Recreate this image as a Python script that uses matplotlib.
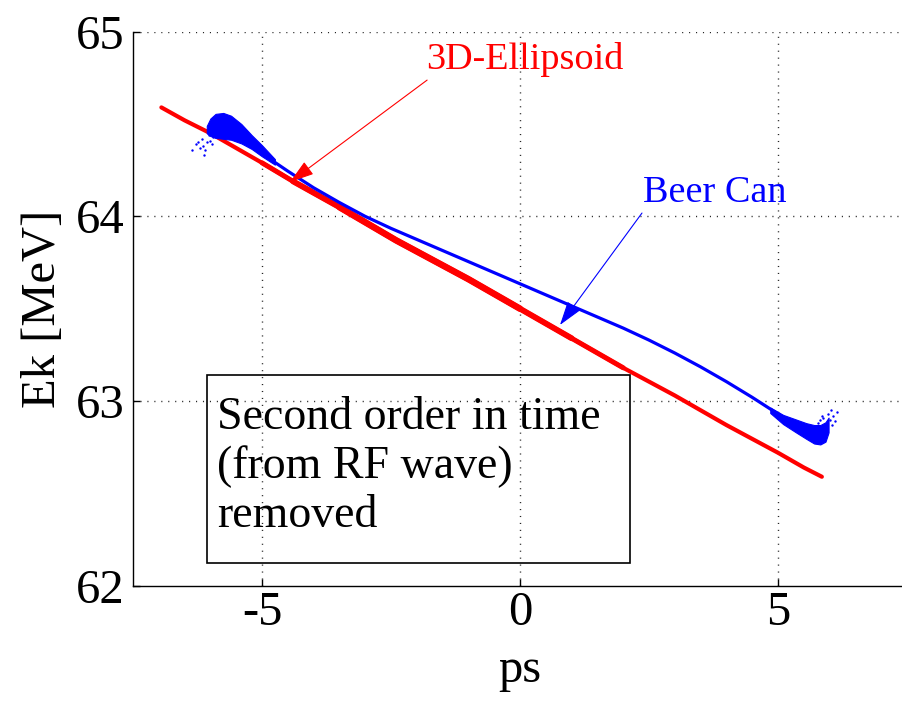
import matplotlib
matplotlib.use("Agg")
import matplotlib.pyplot as plt
import numpy as np
from matplotlib.patches import Rectangle

plt.rcParams['font.family'] = ['Liberation Serif', 'DejaVu Serif']
plt.rcParams['lines.scale_dashes'] = False

# ---- data ----
# 3D-Ellipsoid (red)
ell_x = [-6.95, -6.5, -6.0, -5.0, -4.4, -3.5, -2.4, -1.0, 0.0, 1.0, 2.0, 3.0, 4.0, 5.0, 5.5, 5.85]
ell_y = [64.59, 64.52, 64.45, 64.29, 64.19, 64.05, 63.87, 63.66, 63.50, 63.34, 63.18, 63.03, 62.87, 62.72, 62.64, 62.59]

# Beer Can (blue) core line
bc_x = [-5.62, -5.3, -5.0, -4.5, -4.0, -3.5, -3.0, -2.5, -2.0, -1.5, -1.0, -0.5, 0.0,
        0.5, 1.0, 1.5, 2.0, 2.5, 3.0, 3.5, 4.0, 4.5, 5.0, 5.3]
bc_y = [64.45, 64.395, 64.34, 64.245, 64.155, 64.075, 64.00, 63.935, 63.875, 63.815, 63.755, 63.695, 63.635,
        63.575, 63.515, 63.455, 63.395, 63.33, 63.26, 63.185, 63.105, 63.02, 62.93, 62.875]

# Beer Can head (dense blob) upper / lower edges
head_x = [-6.07, -6.0, -5.9, -5.75, -5.6, -5.4, -5.2, -5.0, -4.75]
head_top = [64.49, 64.53, 64.555, 64.56, 64.545, 64.50, 64.44, 64.385, 64.31]
head_bot = [64.45, 64.435, 64.425, 64.42, 64.415, 64.395, 64.365, 64.325, 64.28]

# Beer Can tail (dense blob) upper / lower edges
tail_x = [4.85, 5.1, 5.35, 5.55, 5.7, 5.82, 5.92, 5.98]
tail_top = [62.965, 62.925, 62.90, 62.88, 62.87, 62.87, 62.885, 62.91]
tail_bot = [62.935, 62.875, 62.83, 62.795, 62.77, 62.765, 62.78, 62.83]

# scattered particles
sc_x = [-6.35, -6.24, -6.17, -6.14, -6.07, -6.0, -6.10, -5.94, -6.2, -6.28, -6.03, -6.12, -5.97,
        5.78, 5.88, 5.97, 6.07, 6.14, 5.81, 6.0, 6.04, 5.92, 6.1, 5.85, 6.02]
sc_y = [64.36, 64.40, 64.42, 64.38, 64.40, 64.41, 64.36, 64.43, 64.37, 64.39, 64.44, 64.33, 64.39,
        62.88, 62.91, 62.93, 62.92, 62.94, 62.90, 62.90, 62.87, 62.86, 62.89, 62.92, 62.95]

xticks = [-5, 0, 5]
yticks = [62, 63, 64, 65]

RED = (1, 0, 0)
BLUE = (0, 0, 1)

fig = plt.figure(figsize=(9.03, 7.05), dpi=100)
ax = fig.add_axes([133/903, (705-585.7)/705, (907-133)/903, (585.7-31.7)/705])
ax.set_xlim(-7.5, 7.5)
ax.set_ylim(62, 65)

# grid (dotted, MATLAB style)
for xv in xticks:
    ax.axvline(xv, color='0.15', lw=1.0, dashes=(0.8, 4.2), zorder=0.5)
for yv in [63, 64, 65]:
    ax.axhline(yv, color='0.15', lw=1.0, dashes=(0.8, 4.2), zorder=0.5)

# red 3D-Ellipsoid (denser, thicker middle of the bunch)
ex = np.array(ell_x); ey = np.array(ell_y)
ax.plot(ex, ey, color=RED, lw=3.0, solid_capstyle='round', zorder=3)
for lo, hi, w in [(-5.0, 2.0, 3.6), (-4.4, 1.0, 4.2), (-3.5, 0.0, 4.7)]:
    sel = (ex >= lo) & (ex <= hi)
    ax.plot(ex[sel], ey[sel], color=RED, lw=w, solid_capstyle='round', zorder=3)

# blue Beer Can
ax.plot(bc_x, bc_y, color=BLUE, lw=2.3, solid_capstyle='round', solid_joinstyle='round', zorder=4)
ax.fill_between(head_x, head_bot, head_top, color=BLUE, lw=0.8, zorder=4)
ax.fill_between(tail_x, tail_bot, tail_top, color=BLUE, lw=0.8, zorder=4)
ax.scatter(sc_x, sc_y, s=3, color=BLUE, lw=0, zorder=4)

# spines / ticks
for s in ['top', 'right']:
    ax.spines[s].set_visible(False)
for s in ['left', 'bottom']:
    ax.spines[s].set_linewidth(1.0)
    ax.spines[s].set_color('black')
ax.set_xticks(xticks)
ax.set_yticks(yticks)
ax.set_xticklabels(['-5', '0', '5'])
ax.set_yticklabels([str(v) for v in yticks])
ax.tick_params(direction='in', length=5, width=1.0, labelsize=35, color='black')
ax.tick_params(axis='y', pad=6)
ax.tick_params(axis='x', pad=4)

ax.set_xlabel('ps', fontsize=35, labelpad=9)
ax.set_ylabel('Ek [MeV]', fontsize=35, labelpad=8)

# annotations
arrow = '-|>,head_length=0.75,head_width=0.24'
ax.text(-1.82, 64.80, '3D-Ellipsoid', color=RED, fontsize=27.5, va='baseline', ha='left')
ax.annotate('', xy=(-4.457, 64.186), xytext=(-1.80, 64.738),
            arrowprops=dict(arrowstyle=arrow, color=RED, lw=0.8, mutation_scale=20,
                            shrinkA=0, shrinkB=0), zorder=6)
ax.text(2.384, 64.078, 'Beer Can', color=BLUE, fontsize=27.5, va='baseline', ha='left')
ax.annotate('', xy=(0.775, 63.412), xytext=(2.364, 64.018),
            arrowprops=dict(arrowstyle=arrow, color=BLUE, lw=0.8, mutation_scale=20,
                            shrinkA=0, shrinkB=0), zorder=6)

# text box
ax.add_patch(Rectangle((-6.066, 62.124), 8.198, 1.017, fill=False, ec='black', lw=1.2, zorder=5))
ax.text(-5.87, 62.318, 'Second order in time\n(from RF wave)\nremoved', fontsize=33,
        va='baseline', ha='left', linespacing=1.2, zorder=6)

fig.savefig('out.png', dpi=100)
